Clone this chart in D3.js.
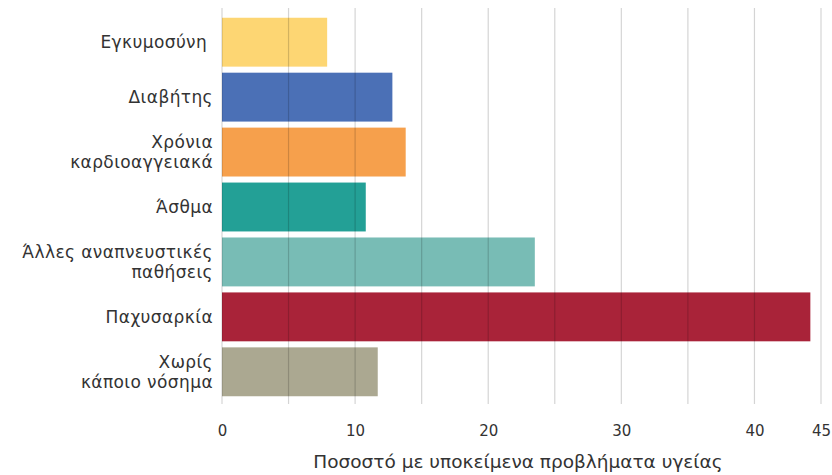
<!DOCTYPE html>
<html>
<head>
<meta charset="utf-8">
<script src="https://cdn.jsdelivr.net/npm/d3@7/dist/d3.min.js"></script>
<style>
  html, body { margin: 0; padding: 0; background: #fff; }
  svg { display: block; }
</style>
</head>
<body>
<svg id="chart" width="832" height="475"></svg>
<script>
// categories, each as lines of the wrapped label
const categories = [
  ["Εγκυμοσύνη\u00a0"],
  ["Διαβήτης"],
  ["Χρόνια", "καρδιοαγγειακά"],
  ["Άσθμα"],
  ["Άλλες αναπνευστικές", "παθήσεις"],
  ["Παχυσαρκία"],
  ["Χωρίς", "κάποιο νόσημα"]
];
const values = [7.9, 12.8, 13.8, 10.8, 23.5, 44.2, 11.7];
const barColors = ["#fdd673", "#4b70b6", "#f6a04c", "#23a096", "#78bcb5", "#a92339", "#aba891"];
const tickValues = [0, 10, 20, 30, 40, 45];
const gridValues = [0, 5, 10, 15, 20, 25, 30, 35, 40, 45];
const axisTitle = "Ποσοστό με υποκείμενα προβλήματα υγείας";

const FONT = "'DejaVu Sans', sans-serif";
const svg = d3.select("#chart");

const x = d3.scaleLinear().domain([0, 45]).range([222, 821]);
const y = d3.scaleBand()
  .domain(d3.range(categories.length))
  .range([15, 399])
  .paddingInner(0.11)
  .paddingOuter(0.05);

// bars
svg.append("g")
  .selectAll("rect")
  .data(values)
  .join("rect")
  .attr("x", x(0))
  .attr("y", (_, i) => y(i))
  .attr("width", d => x(d) - x(0))
  .attr("height", y.bandwidth())
  .attr("fill", (_, i) => barColors[i]);

// grid lines, drawn over the bars
svg.append("g")
  .selectAll("line")
  .data(gridValues)
  .join("line")
  .attr("x1", d => x(d)).attr("x2", d => x(d))
  .attr("y1", 8).attr("y2", 404)
  .attr("stroke", "#000")
  .attr("stroke-opacity", 0.17)
  .attr("stroke-width", 1.2);

// x tick labels
svg.append("g")
  .attr("transform", "translate(0,404)")
  .call(d3.axisBottom(x).tickValues(tickValues).tickSize(0).tickPadding(21))
  .call(ax => ax.select(".domain").remove())
  .call(ax => ax.selectAll("text")
    .attr("fill", "#333")
    .attr("font-size", 15)
    .attr("font-family", FONT));

svg.append("text")
  .attr("x", 518)
  .attr("y", 468)
  .attr("text-anchor", "middle")
  .attr("fill", "#333")
  .attr("font-size", 18.5)
  .attr("font-family", FONT)
  .text(axisTitle);

// category labels
const lab = svg.append("g")
  .selectAll("text")
  .data(categories)
  .join("text")
  .attr("text-anchor", "end")
  .attr("fill", "#333")
  .attr("font-size", 17)
  .attr("letter-spacing", 0.4)
  .attr("font-family", FONT)
  .attr("transform", (_, i) => `translate(213,${y(i) + y.bandwidth() / 2})`);

lab.selectAll("tspan")
  .data(d => d.map((t, k) => ({ t, k, n: d.length })))
  .join("tspan")
  .attr("x", 0)
  .attr("y", d => (d.k - (d.n - 1) / 2) * 20)
  .attr("dy", "0.35em")
  .text(d => d.t);
</script>
</body>
</html>
